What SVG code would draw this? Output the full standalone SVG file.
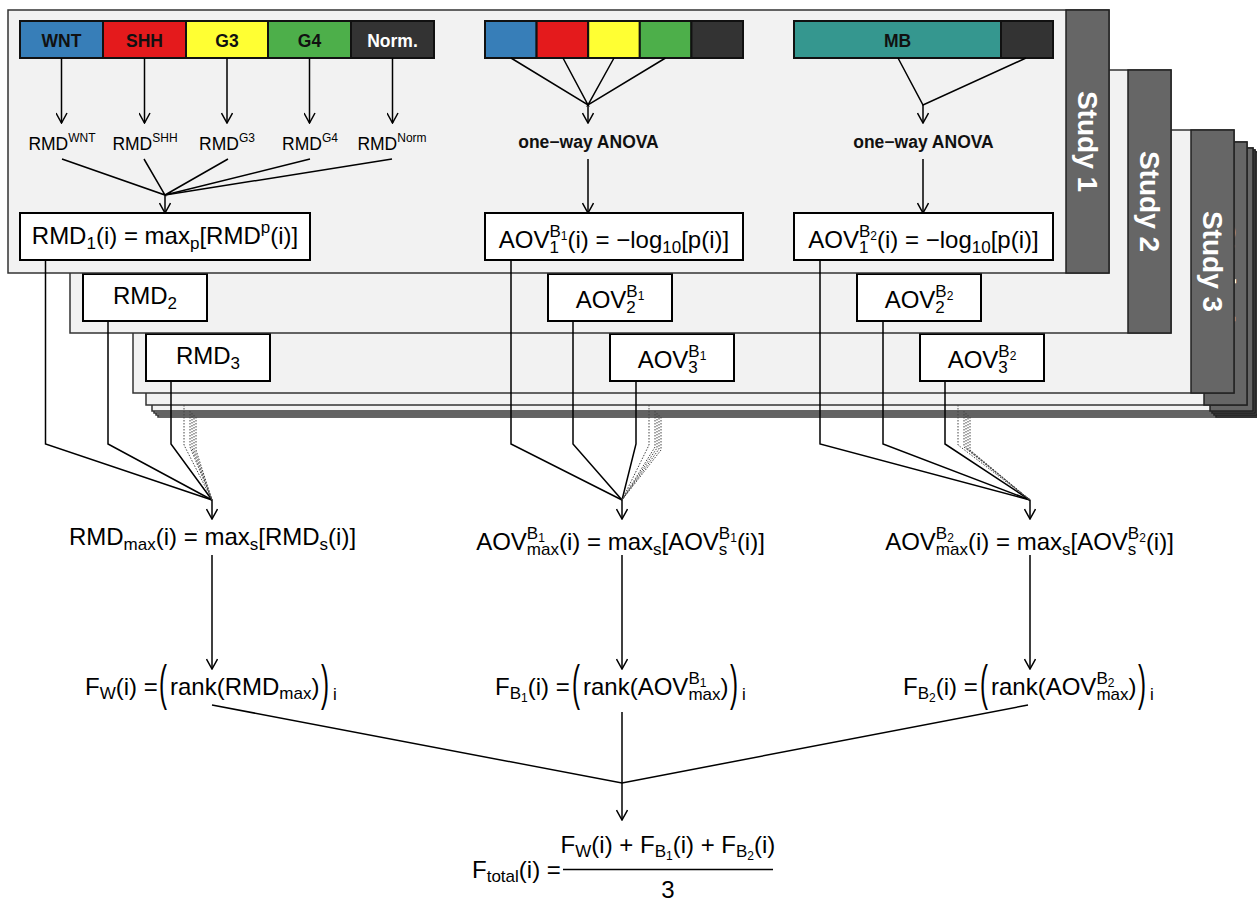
<svg xmlns="http://www.w3.org/2000/svg" width="1257" height="902" viewBox="0 0 1257 902">
<defs>
<style>
.pn{fill:#f2f2f2;stroke:#333;stroke-width:1.5}
.tab{fill:#666;stroke:#222;stroke-width:1.5}
.tabt{font-family:"Liberation Sans",Arial,sans-serif;font-weight:bold;font-size:28px;fill:#fff}
.bx{fill:#fff;stroke:#000;stroke-width:2}
.seg{stroke:#111;stroke-width:2}
.m{font-family:"Liberation Sans",Arial,sans-serif;font-size:24px;fill:#000}
.bp{font-weight:300}
.s{font-size:17px}
.ss{font-size:12px}
.lb{font-family:"Liberation Sans",Arial,sans-serif;font-size:17.5px;fill:#000}
.sl{font-size:12px}
.bt{font-family:"Liberation Sans",Arial,sans-serif;font-weight:bold;font-size:17.5px;fill:#111}
.c{fill:none;stroke:#000;stroke-width:1.5}
.a{fill:none;stroke:#000;stroke-width:1.5;marker-end:url(#ah)}
.d{fill:none;stroke:#444;stroke-width:1;stroke-dasharray:1.5 1.5}
</style>
<marker id="ah" viewBox="0 0 12 12" refX="11" refY="6" markerWidth="12" markerHeight="12" markerUnits="userSpaceOnUse" orient="auto">
<path d="M1,0.5 L11,6 L1,11.5" fill="none" stroke="#000" stroke-width="1.5"/>
</marker>
</defs>
<rect width="1257" height="902" fill="#fff"/>

<!-- stacked study panels, deepest first -->
<g id="study8"><rect class="pn" x="158" y="154" width="1101" height="263"/><rect class="tab" x="1216" y="154" width="43" height="263"/></g>
<g id="study7"><rect class="pn" x="156" y="152" width="1101" height="263"/><rect class="tab" x="1214" y="152" width="43" height="263"/></g>
<g id="study6"><rect class="pn" x="154" y="150" width="1101" height="263"/><rect class="tab" x="1212" y="150" width="43" height="263"/></g>
<g id="study5"><rect class="pn" x="152" y="148" width="1101" height="263"/><rect class="tab" x="1210" y="148" width="43" height="263"/></g>
<g id="study4"><rect class="pn" x="146" y="142" width="1101" height="263"/><rect class="tab" x="1204" y="142" width="43" height="263"/>
<text class="tabt" transform="translate(1225.5,273.5) rotate(90)" y="10" text-anchor="middle">Study 4</text></g>

<g id="study3">
<rect class="pn" x="133" y="130" width="1101" height="263"/><rect class="tab" x="1191" y="130" width="43" height="263"/>
<text class="tabt" transform="translate(1212.5,261.5) rotate(90)" y="10" text-anchor="middle">Study 3</text>
<g id="rmd3"><rect class="bx" x="146" y="334" width="124" height="47"/><text class="m" x="208" y="364" text-anchor="middle">RMD<tspan class="s" dy="5">3</tspan></text></g>
<g id="aov3-b1"><rect class="bx" x="610" y="334" width="124" height="47"/><text class="m" x="672" y="368" text-anchor="middle">AOV<tspan class="s" dy="5">3</tspan><tspan class="s" dx="-9.45" dy="-16">B</tspan><tspan class="ss" dy="3">1</tspan></text></g>
<g id="aov3-b2"><rect class="bx" x="920" y="334" width="124" height="47"/><text class="m" x="982" y="368" text-anchor="middle">AOV<tspan class="s" dy="5">3</tspan><tspan class="s" dx="-9.45" dy="-16">B</tspan><tspan class="ss" dy="3">2</tspan></text></g>
</g>

<g id="study2">
<rect class="pn" x="70" y="70" width="1101" height="263"/><rect class="tab" x="1128" y="70" width="43" height="263"/>
<text class="tabt" transform="translate(1149.5,201.5) rotate(90)" y="10" text-anchor="middle">Study 2</text>
<g id="rmd2"><rect class="bx" x="83" y="274" width="124" height="47"/><text class="m" x="145" y="304" text-anchor="middle">RMD<tspan class="s" dy="5">2</tspan></text></g>
<g id="aov2-b1"><rect class="bx" x="548" y="274" width="124" height="47"/><text class="m" x="610" y="308" text-anchor="middle">AOV<tspan class="s" dy="5">2</tspan><tspan class="s" dx="-9.45" dy="-16">B</tspan><tspan class="ss" dy="3">1</tspan></text></g>
<g id="aov2-b2"><rect class="bx" x="857" y="274" width="124" height="47"/><text class="m" x="919" y="308" text-anchor="middle">AOV<tspan class="s" dy="5">2</tspan><tspan class="s" dx="-9.45" dy="-16">B</tspan><tspan class="ss" dy="3">2</tspan></text></g>
</g>

<g id="study1">
<rect class="pn" x="8" y="10" width="1101" height="263"/><rect class="tab" x="1066" y="10" width="43" height="263"/>
<text class="tabt" transform="translate(1087.5,141.5) rotate(90)" y="10" text-anchor="middle">Study 1</text>

<!-- subgroup bar -->
<g id="bar-subgroups">
<rect class="seg" x="20" y="21" width="83" height="37" fill="#377eb8"/>
<rect class="seg" x="103" y="21" width="83" height="37" fill="#e41a1c"/>
<rect class="seg" x="186" y="21" width="82" height="37" fill="#ffff33"/>
<rect class="seg" x="268" y="21" width="83" height="37" fill="#4daf4a"/>
<rect class="seg" x="351" y="21" width="83" height="37" fill="#333"/>
<text class="bt" x="61.5" y="46.5" text-anchor="middle">WNT</text>
<text class="bt" x="144.5" y="46.5" text-anchor="middle">SHH</text>
<text class="bt" x="227" y="46.5" text-anchor="middle">G3</text>
<text class="bt" x="309.5" y="46.5" text-anchor="middle">G4</text>
<text class="bt" x="392.5" y="46.5" text-anchor="middle" style="fill:#fff">Norm.</text>
</g>

<g id="bar-b1">
<rect class="seg" x="485" y="21" width="51.6" height="37" fill="#377eb8"/>
<rect class="seg" x="536.6" y="21" width="51.6" height="37" fill="#e41a1c"/>
<rect class="seg" x="588.2" y="21" width="51.6" height="37" fill="#ffff33"/>
<rect class="seg" x="639.8" y="21" width="51.6" height="37" fill="#4daf4a"/>
<rect class="seg" x="691.4" y="21" width="51.6" height="37" fill="#333"/>
</g>

<g id="bar-b2">
<rect class="seg" x="794" y="21" width="207" height="37" fill="#35978f"/>
<rect class="seg" x="1001" y="21" width="52" height="37" fill="#333"/>
<text class="bt" x="897.5" y="46.5" text-anchor="middle">MB</text>
</g>

<g id="rmd-labels">
<text class="lb" x="62" y="150" text-anchor="middle">RMD<tspan class="sl" dy="-8">WNT</tspan></text>
<text class="lb" x="145" y="150" text-anchor="middle">RMD<tspan class="sl" dy="-8">SHH</tspan></text>
<text class="lb" x="227" y="150" text-anchor="middle">RMD<tspan class="sl" dy="-8">G3</tspan></text>
<text class="lb" x="310" y="150" text-anchor="middle">RMD<tspan class="sl" dy="-8">G4</tspan></text>
<text class="lb" x="392" y="150" text-anchor="middle">RMD<tspan class="sl" dy="-8">Norm</tspan></text>
</g>

<g id="anova-b1"><text class="bt" x="588.5" y="148" text-anchor="middle">one−way ANOVA</text></g>
<g id="anova-b2"><text class="bt" x="923.5" y="148" text-anchor="middle">one−way ANOVA</text></g>

<g id="rmd1"><rect class="bx" x="20" y="213" width="290" height="47"/>
<text class="m" x="165" y="244" text-anchor="middle">RMD<tspan class="s" dy="5">1</tspan><tspan dy="-5">(i) = max</tspan><tspan class="s" dy="5">p</tspan><tspan dy="-5">[RMD</tspan><tspan class="s" dy="-11">p</tspan><tspan dy="11">(i)]</tspan></text></g>
<g id="aov1-b1"><rect class="bx" x="485" y="213" width="258" height="47"/>
<text class="m" x="614" y="247.5" text-anchor="middle">AOV<tspan class="s" dy="5">1</tspan><tspan class="s" dx="-9.45" dy="-16">B</tspan><tspan class="ss" dy="3">1</tspan><tspan dy="8">(i) = −log</tspan><tspan class="s" dy="5">10</tspan><tspan dy="-5">[p(i)]</tspan></text></g>
<g id="aov1-b2"><rect class="bx" x="794" y="213" width="259" height="47"/>
<text class="m" x="923.5" y="247.5" text-anchor="middle">AOV<tspan class="s" dy="5">1</tspan><tspan class="s" dx="-9.45" dy="-16">B</tspan><tspan class="ss" dy="3">2</tspan><tspan dy="8">(i) = −log</tspan><tspan class="s" dy="5">10</tspan><tspan dy="-5">[p(i)]</tspan></text></g>
</g>

<!-- combined scores -->
<g id="rmd-max"><text class="m" x="212.5" y="545" text-anchor="middle">RMD<tspan class="s" dy="5">max</tspan><tspan dy="-5">(i) = max</tspan><tspan class="s" dy="5">s</tspan><tspan dy="-5">[RMD</tspan><tspan class="s" dy="5">s</tspan><tspan dy="-5">(i)]</tspan></text></g>
<g id="aov-max-b1"><text class="m" x="620.5" y="550" text-anchor="middle">AOV<tspan class="s" dy="5">max</tspan><tspan class="s" dx="-32.11" dy="-16">B</tspan><tspan class="ss" dy="3">1</tspan><tspan dx="14.11" dy="8">(i) = max</tspan><tspan class="s" dy="5">s</tspan><tspan dy="-5">[AOV</tspan><tspan class="s" dy="5">s</tspan><tspan class="s" dx="-8.5" dy="-16">B</tspan><tspan class="ss" dy="3">1</tspan><tspan dy="8">(i)]</tspan></text></g>
<g id="aov-max-b2"><text class="m" x="1029.5" y="550" text-anchor="middle">AOV<tspan class="s" dy="5">max</tspan><tspan class="s" dx="-32.11" dy="-16">B</tspan><tspan class="ss" dy="3">2</tspan><tspan dx="14.11" dy="8">(i) = max</tspan><tspan class="s" dy="5">s</tspan><tspan dy="-5">[AOV</tspan><tspan class="s" dy="5">s</tspan><tspan class="s" dx="-8.5" dy="-16">B</tspan><tspan class="ss" dy="3">2</tspan><tspan dy="8">(i)]</tspan></text></g>

<!-- rank scores -->
<g id="f-w">
<text class="m" x="85" y="695">F<tspan class="s" dy="4">W</tspan><tspan dy="-4">(i) =</tspan></text>
<text class="m bp" transform="translate(159,700) scale(1,2.1)">(</text>
<text class="m" x="170" y="695">rank(RMD<tspan class="s" dy="4">max</tspan><tspan dy="-4">)</tspan></text>
<text class="m bp" transform="translate(321,700) scale(1,2.1)">)</text>
<text class="m s" x="333" y="700">i</text>
</g>
<g id="f-b1">
<text class="m" x="495" y="695">F<tspan class="s" dy="4">B</tspan><tspan class="ss" dy="3">1</tspan><tspan dy="-7">(i) =</tspan></text>
<text class="m bp" transform="translate(572,700) scale(1,2.1)">(</text>
<text class="m" x="583" y="695">rank(AOV<tspan class="s" dy="5">max</tspan><tspan class="s" dx="-32.11" dy="-16">B</tspan><tspan class="ss" dy="3">1</tspan><tspan dx="14.11" dy="8">)</tspan></text>
<text class="m bp" transform="translate(730,700) scale(1,2.1)">)</text>
<text class="m s" x="742" y="700">i</text>
</g>
<g id="f-b2">
<text class="m" x="903" y="695">F<tspan class="s" dy="4">B</tspan><tspan class="ss" dy="3">2</tspan><tspan dy="-7">(i) =</tspan></text>
<text class="m bp" transform="translate(980,700) scale(1,2.1)">(</text>
<text class="m" x="991" y="695">rank(AOV<tspan class="s" dy="5">max</tspan><tspan class="s" dx="-32.11" dy="-16">B</tspan><tspan class="ss" dy="3">2</tspan><tspan dx="14.11" dy="8">)</tspan></text>
<text class="m bp" transform="translate(1138,700) scale(1,2.1)">)</text>
<text class="m s" x="1150" y="700">i</text>
</g>

<g id="f-total">
<text class="m" x="472" y="878">F<tspan class="s" dy="4">total</tspan><tspan dy="-4">(i) =</tspan></text>
<text class="m" x="668" y="853" text-anchor="middle">F<tspan class="s" dy="4">W</tspan><tspan dy="-4">(i) + F</tspan><tspan class="s" dy="4">B</tspan><tspan class="ss" dy="3">1</tspan><tspan dy="-7">(i) + F</tspan><tspan class="s" dy="4">B</tspan><tspan class="ss" dy="3">2</tspan><tspan dy="-7">(i)</tspan></text>
<line x1="563" y1="869.5" x2="773" y2="869.5" stroke="#000" stroke-width="1.5"/>
<text class="m" x="668" y="898" text-anchor="middle">3</text>
</g>

<g id="connectors">
<!-- subgroups to RMD labels -->
<line class="a" x1="61.5" y1="58" x2="61.5" y2="123"/>
<line class="a" x1="144.5" y1="58" x2="144.5" y2="123"/>
<line class="a" x1="227" y1="58" x2="227" y2="123"/>
<line class="a" x1="309.5" y1="58" x2="309.5" y2="123"/>
<line class="a" x1="392.5" y1="58" x2="392.5" y2="123"/>
<polyline class="c" points="62,159 165,195 144,159"/>
<polyline class="c" points="228,159 165,195 310,159"/>
<polyline class="c" points="392,159 165,195"/>
<line class="a" x1="165" y1="195" x2="165" y2="213"/>
<!-- subgroups to ANOVA B1 -->
<polyline class="c" points="511,58 588,105 563,58"/>
<polyline class="c" points="614,58 588,105 665.5,58"/>
<line class="a" x1="588" y1="105" x2="588" y2="123"/>
<line class="a" x1="588" y1="159" x2="588" y2="213"/>
<!-- MB vs normal to ANOVA B2 -->
<polyline class="c" points="898,58 923,105 1026,58"/>
<line class="a" x1="923" y1="105" x2="923" y2="123"/>
<line class="a" x1="923" y1="159" x2="923" y2="213"/>

<!-- per-study scores to maxima -->
<polyline class="c" points="45.5,260 45.5,444 212,500"/>
<polyline class="c" points="108,321 108,444 212,500"/>
<polyline class="c" points="171,381 171,444 212,500"/>
<polyline class="d" points="184,405 184,445 212,500"/>
<polyline class="d" points="190,411 190,447 212,500"/>
<polyline class="d" points="192,413 192,448 212,500"/>
<polyline class="d" points="194,415 194,449 212,500"/>
<polyline class="d" points="196,417 196,450 212,500"/>
<line class="a" x1="212" y1="500" x2="212" y2="519"/>

<polyline class="c" points="511,260 511,444 622,500"/>
<polyline class="c" points="573,321 573,444 622,500"/>
<polyline class="c" points="636,381 636,444 622,500"/>
<polyline class="d" points="649,405 649,445 622,500"/>
<polyline class="d" points="655,411 655,447 622,500"/>
<polyline class="d" points="657,413 657,448 622,500"/>
<polyline class="d" points="659,415 659,449 622,500"/>
<polyline class="d" points="661,417 661,450 622,500"/>
<line class="a" x1="622" y1="500" x2="622" y2="519"/>

<polyline class="c" points="820,260 820,444 1030,500"/>
<polyline class="c" points="883,321 883,444 1030,500"/>
<polyline class="c" points="945,381 945,444 1030,500"/>
<polyline class="d" points="958,405 958,445 1030,500"/>
<polyline class="d" points="964,411 964,447 1030,500"/>
<polyline class="d" points="966,413 966,448 1030,500"/>
<polyline class="d" points="968,415 968,449 1030,500"/>
<polyline class="d" points="970,417 970,450 1030,500"/>
<line class="a" x1="1030" y1="500" x2="1030" y2="519"/>

<!-- maxima to rank scores -->
<line class="a" x1="212" y1="555" x2="212" y2="669"/>
<line class="a" x1="622" y1="555" x2="622" y2="669"/>
<line class="a" x1="1030" y1="555" x2="1030" y2="669"/>

<!-- rank scores to total -->
<polyline class="c" points="212,705 622,783 1028,705"/>
<line class="c" x1="622" y1="712" x2="622" y2="783"/>
<line class="a" x1="622" y1="783" x2="622" y2="820"/>
</g>
</svg>
